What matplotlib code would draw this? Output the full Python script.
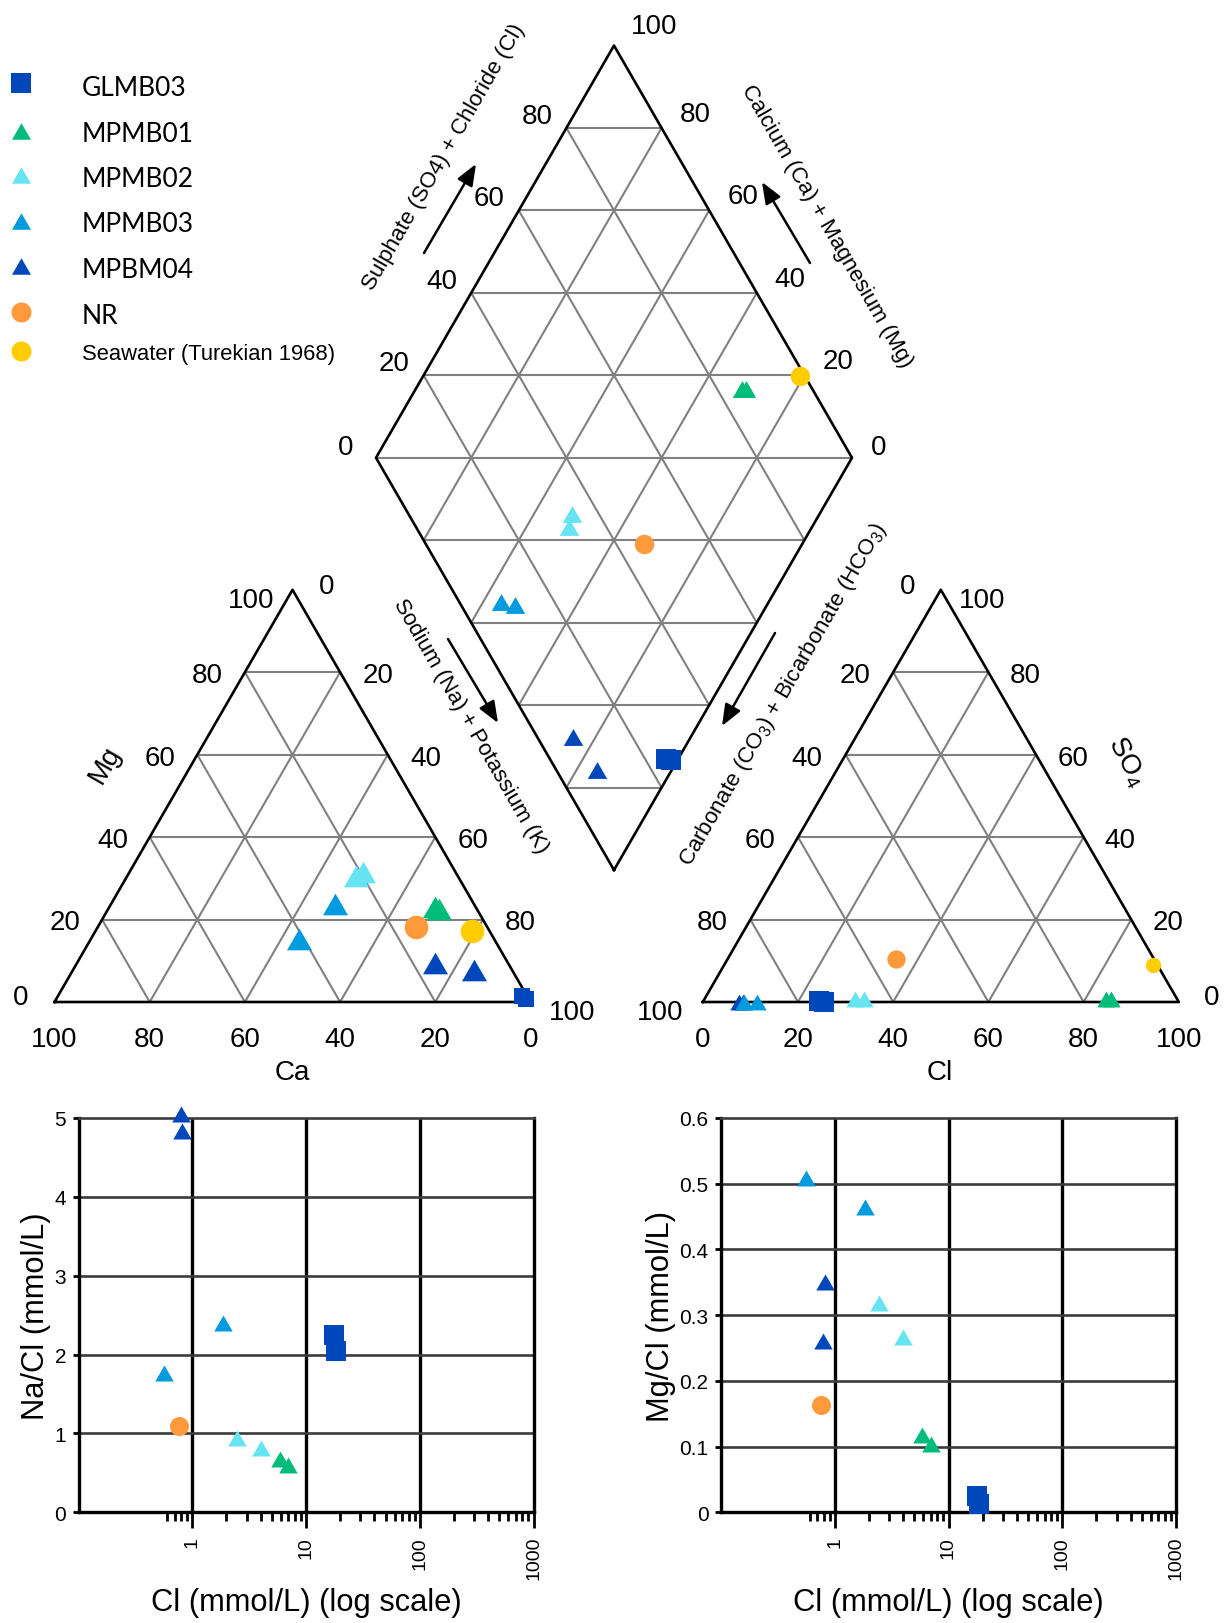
import numpy as np
import matplotlib.pyplot as plt
from matplotlib.ticker import NullFormatter

plt.rcParams['font.family'] = ['Liberation Sans', 'DejaVu Sans']
plt.rcParams['mathtext.fontset'] = 'custom'
plt.rcParams['mathtext.rm'] = 'Liberation Sans'
plt.rcParams['mathtext.default'] = 'regular'

# ---------------- data ----------------
groups = ['GLMB03', 'MPMB01', 'MPMB02', 'MPMB03', 'MPBM04', 'NR', 'Seawater (Turekian 1968)']
colors = ['#0047BB', '#00BC7B', '#66E4F2', '#009ADE', '#0047BB', '#FF9A3C', '#FFCC00']
shapes = ['s', 'tri', 'tri', 'tri', 'tri', 'o', 'o']

# Piper (% of meq)
ca_pct = [[1.0, 0.6], [8.5, 8.0], [21.5, 19.5], [29.25, 41.0], [15.25, 7.9], [14.9], [3.6]]
mg_pct = [[1.5, 0.8], [23.0, 22.5], [30.5, 31.5], [23.75, 15.25], [9.5, 7.75], [18.25], [17.25]]
so4_pct = [[0.2, 0.0], [0.8, 0.8], [0.8, 0.8], [0.0, 0.0], [0.0, 0.0], [10.5], [9.0]]
cl_pct = [[24.3, 25.4], [84.4, 85.3], [33.5, 31.5], [11.4, 8.7], [7.5, 8.5], [35.4], [90.1]]

# ratio plots (no seawater)
cl_mmol = [[17.7, 18.5], [5.9, 7.0], [2.45, 4.0], [0.56, 1.86], [0.79, 0.82], [0.76]]
na_cl = [[2.25, 2.05], [0.67, 0.60], [0.94, 0.81], [1.77, 2.40], [5.05, 4.83], [1.09]]
mg_cl = [[0.025, 0.013], [0.118, 0.104], [0.318, 0.266], [0.509, 0.464], [0.260, 0.351], [0.163]]

ticks_pct = [0, 20, 40, 60, 80, 100]

# marker sizes per panel
ms_cat = [11.5, 18, 18, 18, 18, 17, 17]
ms_an = [14.4, 13.2, 13.2, 13.2, 13.2, 13.2, 11]
ms_dia = [13.7, 14, 14, 14, 14, 14, 14]
ms_leg = [14.4, 13.7, 13.7, 13.7, 13.7, 14.4, 14.4]
ms_bot = [13.7, 13.3, 13.3, 13.3, 13.3, 13.7]
draw_order = [4, 3, 2, 1, 0, 5, 6]

TRI = [(-1, -0.866), (1, -0.866), (0, 0.866)]


def mk(s):
    return TRI if s == 'tri' else s


# ---------------- geometry (pixels) ----------------
S = 476.0
H = S * np.sqrt(3) / 2
CAT_X0 = 54.5
AN_X0 = 702.8
BASE_Y = 1003.0
DIA_X, DIA_Y = 614.0, 871.0
GRID = '#808080'
FS_NUM = 20

fig = plt.figure(figsize=(12.31, 16.24), dpi=100)
ax = fig.add_axes([0, 0, 1, 1])
ax.set_xlim(0, 1231)
ax.set_ylim(1624, 0)
ax.axis('off')


def tri_pt(x0, r, t):
    return x0 + S * (r + t / 2), BASE_Y - H * t


def dia_pt(a, b):
    return DIA_X + S / 2 * (a - b), DIA_Y - H * (a + b)


def seg(p, q, c=GRID, lw=1.5):
    ax.plot([p[0], q[0]], [p[1], q[1]], color=c, lw=lw, zorder=1, solid_capstyle='butt')


def num(x, y, s, fs=FS_NUM):
    em = fs * 100 / 72
    ax.text(x, y + 0.358 * em, s, ha='center', va='baseline', fontsize=fs)


# triangles
for x0 in (CAT_X0, AN_X0):
    for f in (0.2, 0.4, 0.6, 0.8):
        seg(tri_pt(x0, 0, f), tri_pt(x0, 1 - f, f))
        seg(tri_pt(x0, f, 0), tri_pt(x0, f, 1 - f))
        seg(tri_pt(x0, 1 - f, 0), tri_pt(x0, 0, 1 - f))
    pts = [tri_pt(x0, 0, 0), tri_pt(x0, 1, 0), tri_pt(x0, 0, 1), tri_pt(x0, 0, 0)]
    ax.plot([p[0] for p in pts], [p[1] for p in pts], color='k', lw=1.9, zorder=2)

# diamond
for k in (0.2, 0.4, 0.6, 0.8):
    seg(dia_pt(k, 0), dia_pt(k, 1))
    seg(dia_pt(0, k), dia_pt(1, k))
for k in np.arange(1, 10) * 0.2:
    if k <= 1:
        seg(dia_pt(0, k), dia_pt(k, 0))
    else:
        seg(dia_pt(k - 1, 1), dia_pt(1, k - 1))
pts = [dia_pt(0, 0), dia_pt(1, 0), dia_pt(1, 1), dia_pt(0, 1), dia_pt(0, 0)]
ax.plot([p[0] for p in pts], [p[1] for p in pts], color='k', lw=1.9, zorder=2)

# numbers on the axes of the three panels
for i, v in enumerate(ticks_pct):
    f = v / 100
    # Mg, left edge
    x, y = tri_pt(CAT_X0, 0, f)
    dx, dy = [(-34, -8), (-37.3, 0), (-37.3, 0), (-37.3, 0), (-37.3, 0), (-41.5, 7.5)][i]
    num(x + dx, y + dy, str(v))
    # Na+K, right edge
    x, y = tri_pt(CAT_X0, 1 - f, f)
    dx, dy = [(42, 7), (37.7, 0), (37.7, 0), (37.7, 0), (37.7, 0), (33.7, -7)][i]
    num(x + dx, y + dy, str(100 - v))
    # Ca, bottom
    x, y = tri_pt(CAT_X0, 1 - f, 0)
    num(x, 1036.7, str(v))
    # anion: HCO3 left edge
    x, y = tri_pt(AN_X0, 0, f)
    dx, dy = [(-42.8, 7), (-38.3, 0), (-38.3, 0), (-38.3, 0), (-38.3, 0), (-33.2, -7)][i]
    num(x + dx, y + dy, str(100 - v))
    # SO4 right edge
    x, y = tri_pt(AN_X0, 1 - f, f)
    dx, dy = [(32.8, -8), (36.6, 0), (36.6, 0), (36.6, 0), (36.6, 0), (41.6, 7.5)][i]
    num(x + dx, y + dy, str(v))
    # Cl bottom
    x, y = tri_pt(AN_X0, f, 0)
    num(x, 1036.7, str(v))
    # diamond upper-left (SO4+Cl)
    x, y = dia_pt(f, 1)
    dx, dy = [(-30.6, -13.8), (-29.4, -15), (-29.4, -15), (-29.4, -15), (-29.4, -15), (40, -22)][i]
    num(x + dx, y + dy, str(v))
    # diamond upper-right (Ca+Mg)
    if v < 100:
        x, y = dia_pt(1, f)
        dx, dy = [(26.6, -13.8), (33.5, -17.3), (33.5, -17.3), (33.5, -17.3), (33.5, -17.3)][i]
        num(x + dx, y + dy, str(v))

num(292.6, 1070, 'Ca')
num(939.6, 1070, 'Cl')
ax.text(104.8, 765, 'Mg', rotation=60, ha='center', va='center', rotation_mode='anchor', fontsize=FS_NUM)
ax.text(1126.6, 761.7, 'SO$_4$', rotation=-62, ha='center', va='center', rotation_mode='anchor',
        fontsize=FS_NUM)

# diamond titles and arrows
FS_T = 16
ax.text(444, 156.8, 'Sulphate (SO4) + Chloride (Cl)', rotation=60, ha='center', va='center',
        rotation_mode='anchor', fontsize=FS_T)
ax.text(827, 226, 'Calcium (Ca) + Magnesium (Mg)', rotation=-60, ha='center', va='center',
        rotation_mode='anchor', fontsize=FS_T)
ax.text(470.5, 726, 'Sodium (Na) + Potassium (K)', rotation=-60, ha='center', va='center',
        rotation_mode='anchor', fontsize=FS_T)
ax.text(783.3, 695, 'Carbonate (CO$_3$) + Bicarbonate (HCO$_3$)', rotation=60, ha='center',
        va='center', rotation_mode='anchor', fontsize=FS_T)
arrows = [((424, 254), (476, 165)), ((810, 264), (762, 183)),
          ((448, 640), (498, 724)), ((775, 634), (722, 727))]
for p0, p1 in arrows:
    ax.annotate('', xy=p1, xytext=p0,
                arrowprops=dict(arrowstyle='-|>,head_length=0.5,head_width=0.2', color='k',
                                lw=1.8, mutation_scale=26, shrinkA=0, shrinkB=0))

# points
for g in draw_order:
    ca = np.array(ca_pct[g])
    mg = np.array(mg_pct[g])
    so4 = np.array(so4_pct[g])
    cl = np.array(cl_pct[g])
    nak = 100 - ca - mg
    cx, cy = tri_pt(CAT_X0, nak / 100, mg / 100)
    axx, ayy = tri_pt(AN_X0, cl / 100, so4 / 100)
    dx_, dy_ = dia_pt((so4 + cl) / 100, (ca + mg) / 100)
    kw = dict(ls='none', marker=mk(shapes[g]), color=colors[g], mew=0, zorder=4, clip_on=False)
    ax.plot(cx, cy, ms=ms_cat[g], **kw)
    ax.plot(axx, ayy, ms=ms_an[g], **kw)
    ax.plot(dx_, dy_, ms=ms_dia[g], **kw)

# legend
leg_y = [84, 131.7, 176, 221.7, 266.7, 313.3, 351.7]
txt_y = [86.3, 132.5, 177.5, 223, 268.5, 315, 351.7]
for g in range(len(groups)):
    ax.plot(21, leg_y[g], ls='none', marker=mk(shapes[g]), color=colors[g], ms=ms_leg[g], mew=0)
    if g < 6:
        em = 19 * 100 / 72
        ax.text(81.7, txt_y[g] + 0.358 * em, groups[g], ha='left', va='baseline', fontsize=19,
                family=['Lato', 'DejaVu Sans'])
    else:
        em = 15.8 * 100 / 72
        ax.text(81.7, txt_y[g] + 0.358 * em, groups[g], ha='left', va='baseline', fontsize=15.8)

# ---------------- ratio plots ----------------
W, HF = 1231.0, 1624.0
top_px, bot_px = 1119.0, 1513.3
minor = [0.6, 0.7, 0.8, 0.9] + [m * 10 ** e for e in range(0, 3) for m in range(2, 10)]


def ratio_ax(left_px, yvals, ymax, ystep, ylabel, yfmt, ylab_x):
    a = fig.add_axes([left_px / W, 1 - bot_px / HF, 455 / W, (bot_px - top_px) / HF])
    a.set_xscale('log')
    a.set_xlim(0.1, 1000)
    a.set_ylim(0, ymax)
    a.set_xticks([1, 10, 100, 1000])
    a.set_xticklabels(['1', '10', '100', '1000'], rotation=90)
    a.set_xticks(minor, minor=True)
    a.xaxis.set_minor_formatter(NullFormatter())
    yt = np.round(np.arange(0, ymax + ystep / 2, ystep), 3)
    a.set_yticks(yt)
    a.set_yticklabels([yfmt(v) for v in yt])
    a.tick_params(axis='x', which='major', length=11.5, width=2, pad=5.5, labelsize=14)
    a.tick_params(axis='x', which='minor', length=6.5, width=2)
    a.tick_params(axis='y', length=4, width=2, pad=5, labelsize=15)
    for s in a.spines.values():
        s.set_linewidth(2.4)
    a.spines['top'].set_color('#3c3c3c')
    a.spines['top'].set_linewidth(1.9)
    for v in (1, 10, 100):
        a.axvline(v, color='k', lw=2.4, zorder=1)
    for v in yt[1:-1]:
        a.axhline(v, color='#3c3c3c', lw=1.9, zorder=1)
    for g in draw_order[:6]:
        a.plot(cl_mmol[g], yvals[g], ls='none', marker=mk(shapes[g]), color=colors[g],
               ms=ms_bot[g], mew=0, zorder=4, clip_on=False)
    a.text(0.5, (bot_px - 1603) / (bot_px - top_px), 'Cl (mmol/L) (log scale)', transform=a.transAxes,
           ha='center', va='center', fontsize=22.2)
    a.text(ylab_x, 0.5, ylabel, transform=a.transAxes, rotation=90, ha='center', va='center',
           fontsize=22.2)
    return a


ratio_ax(78.5, na_cl, 5, 1, 'Na/Cl (mmol/L)', lambda v: '%d' % v, (36 - 78.5) / 455)
ratio_ax(721, mg_cl, 0.6, 0.1, 'Mg/Cl (mmol/L)', lambda v: '0' if v == 0 else '%.1f' % v,
         (660.5 - 721) / 455)

fig.savefig('out.png', dpi=100)
